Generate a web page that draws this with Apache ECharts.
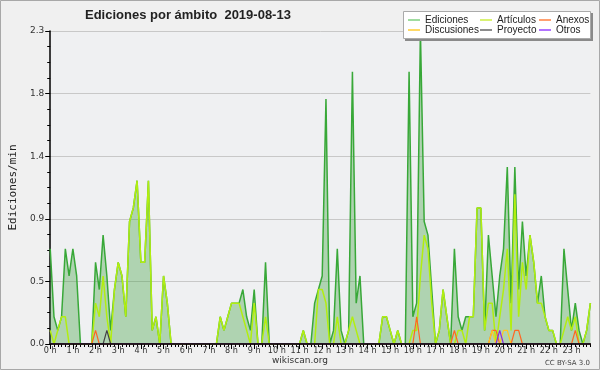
<!DOCTYPE html>
<html><head><meta charset="utf-8">
<script src="https://cdn.jsdelivr.net/npm/echarts@6/dist/echarts.min.js"></script>
<style>html,body{margin:0;padding:0;background:#f0f0f0}#c{width:600px;height:370px}</style>
</head><body><div id="c"></div>
<script>
// Tick labels (one per hour)
const hourLabels = ['0 h','1 h','2 h','3 h','4 h','5 h','6 h','7 h','8 h','9 h','10 h','11 h',
  '12 h','13 h','14 h','15 h','16 h','17 h','18 h','19 h','20 h','21 h','22 h','23 h'];
const minuteSlots = ['00','10','20','30','40','50'];
// Categories: 10-minute slots of the day
const categories = [];
hourLabels.forEach((h, hi) => minuteSlots.forEach(m => categories.push(hi + ':' + m)));

// Series values (edits per minute, 10-minute bins)
const ediciones = [
  0.7,0.2,0.1,0.2,0.7,0.5,0.7,0.5,0,0,0,0,
  0.6,0.4,0.8,0.5,0.1,0.4,0.6,0.5,0.2,0.9,1.0,1.2,
  0.6,0.6,1.2,0.1,0.2,0,0.5,0.3,0,0,0,0,
  0,0,0,0,0,0,0,0,0,0.2,0.1,0.2,
  0.3,0.3,0.3,0.4,0.2,0.1,0.4,0,0,0.6,0,0,
  0,0,0,0,0,0,0,0.1,0,0,0.3,0.4,
  0.5,1.8,0,0.1,0.7,0.1,0,0.1,2.0,0.3,0.5,0,
  0,0,0,0,0.2,0.2,0.1,0,0.1,0,0,2.0,
  0.2,0.3,2.3,0.9,0.8,0.4,0,0.1,0.4,0.2,0,0.7,
  0.2,0.1,0.2,0.2,0.2,1.0,1.0,0.1,0.8,0.5,0.2,0.5,
  0.7,1.3,0.3,1.3,0.4,0.9,0.5,0.8,0.6,0.3,0.5,0.2,
  0.1,0.1,0,0,0.7,0.4,0.1,0.3,0.1,0,0.1,0.3
];
const articulos = [
  0.1,0,0.1,0.2,0.2,0,0,0,0,0,0,0,
  0.3,0.2,0.5,0.2,0,0.4,0.6,0.5,0.2,0.9,1.0,1.2,
  0.6,0.6,1.2,0.1,0.2,0,0.5,0.3,0,0,0,0,
  0,0,0,0,0,0,0,0,0,0.2,0.1,0.2,
  0.3,0.3,0.3,0.2,0.1,0,0.3,0,0,0.2,0,0,
  0,0,0,0,0,0,0,0.1,0,0,0,0.4,
  0.4,0.3,0,0,0.2,0,0,0.1,0.2,0.1,0,0,
  0,0,0,0,0.2,0.2,0.1,0,0.1,0,0,0,
  0.1,0.1,0.5,0.8,0.7,0.3,0,0.1,0.4,0.2,0,0,
  0.1,0.1,0,0.2,0.2,1.0,1.0,0.1,0.3,0.3,0,0.2,
  0.4,0.7,0.1,1.1,0.2,0.6,0.4,0.8,0.6,0.3,0.3,0.2,
  0.1,0.1,0,0,0.1,0.2,0.1,0.2,0,0,0.1,0.3
];
const anexos = [
  0,0,0,0,0,0,0,0,0,0,0,0,
  0.1,0,0,0,0,0,0,0,0,0,0,0,
  0,0,0,0,0,0,0,0,0,0,0,0,
  0,0,0,0,0,0,0,0,0,0,0,0,
  0,0,0,0,0,0,0,0,0,0,0,0,
  0,0,0,0,0,0,0,0,0,0,0,0,
  0,0,0,0,0,0,0,0,0,0,0,0,
  0,0,0,0,0,0,0,0,0,0,0,0,
  0,0.2,0,0,0,0,0,0,0,0,0,0.1,
  0,0,0,0,0,0,0,0,0,0.1,0.1,0,
  0,0,0,0.1,0.1,0,0,0,0,0,0,0,
  0,0,0,0,0,0,0,0.1,0,0,0,0
];
const discusiones = [
  0,0,0,0,0,0,0,0,0,0,0,0,
  0,0,0,0,0,0,0,0,0,0,0,0,
  0,0,0,0,0,0,0,0,0,0,0,0,
  0,0,0,0,0,0,0,0,0,0,0,0,
  0,0,0,0,0,0,0,0,0,0,0,0,
  0,0,0,0,0,0,0,0,0,0,0,0,
  0,0,0,0,0,0,0,0,0,0,0,0,
  0,0,0,0,0,0,0,0,0,0,0,0,
  0,0,0,0,0,0,0,0,0,0,0,0,
  0,0,0,0,0,0,0,0,0,0.1,0,0,
  0.1,0.1,0,0,0,0,0,0,0,0,0,0,
  0,0,0,0,0,0,0,0,0,0,0,0
];
const proyecto = [
  0,0,0,0,0,0,0,0,0,0,0,0,
  0,0,0,0.1,0,0,0,0,0,0,0,0,
  0,0,0,0,0,0,0,0,0,0,0,0,
  0,0,0,0,0,0,0,0,0,0,0,0,
  0,0,0,0,0,0,0,0,0,0,0,0,
  0,0,0,0,0,0,0,0,0,0,0,0,
  0,0,0,0,0,0,0,0,0,0,0,0,
  0,0,0,0,0,0,0,0,0,0,0,0,
  0,0,0,0,0,0,0,0,0,0,0,0,
  0,0,0,0,0,0,0,0,0,0,0,0,
  0,0,0,0,0,0,0,0,0,0,0,0,
  0,0,0,0,0,0,0,0,0,0,0,0
];
const otros = [
  0,0,0,0,0,0,0,0,0,0,0,0,
  0,0,0,0,0,0,0,0,0,0,0,0,
  0,0,0,0,0,0,0,0,0,0,0,0,
  0,0,0,0,0,0,0,0,0,0,0,0,
  0,0,0,0,0,0,0,0,0,0,0,0,
  0,0,0,0,0,0,0,0,0,0,0,0,
  0,0,0,0,0,0,0,0,0,0,0,0,
  0,0,0,0,0,0,0,0,0,0,0,0,
  0,0,0,0,0,0,0,0,0,0,0,0,
  0,0,0,0,0,0,0,0,0,0,0,0.1,
  0,0,0,0,0,0,0,0,0,0,0,0,
  0,0,0,0,0,0,0,0,0,0,0,0
];
const yTicks = { min: 0, max: 2.3, step: 0.46 };

const chart = echarts.init(document.getElementById('c'), null, { renderer: 'canvas' });
const narrow = '"DejaVu Sans Condensed", "Liberation Sans Narrow", "Liberation Sans", sans-serif';
const legendText = { fontSize: 10, fontFamily: '"Liberation Sans", sans-serif', color: '#222', lineHeight: 10 };
function lineSeries(name, data, color, width, z) {
  return { name, type: 'line', data, symbol: 'none', showSymbol: false, z,
    lineStyle: { color, width }, itemStyle: { color }, emphasis: { disabled: true } };
}
const ed = lineSeries('Ediciones', ediciones, '#38a838', 1.5, 2);
ed.areaStyle = { color: 'rgba(60,160,60,0.5)' };

chart.setOption({
  backgroundColor: '#f0f0f0',
  animation: false,
  title: { text: 'Ediciones por ámbito  2019-08-13', left: 85, top: 9, padding: 0,
    textStyle: { fontFamily: '"Liberation Sans", sans-serif', fontSize: 13, fontWeight: 'bold', color: '#222' } },
  grid: { left: 46.5, right: 9.6, top: 31, bottom: 26, show: true, backgroundColor: '#eff0f2', borderWidth: 0 },
  xAxis: [
    { type: 'category', data: categories, boundaryGap: false, z: 10,
      axisLine: { lineStyle: { color: '#000', width: 1.5 } },
      axisTick: { interval: i => i % 6 === 0, length: 5, lineStyle: { color: '#000' } },
      axisLabel: { interval: i => i % 6 === 0, formatter: (v, i) => hourLabels[i / 6],
        fontSize: 9, fontFamily: narrow, color: '#333', margin: 2 },
      splitLine: { show: false } },
    { type: 'category', data: categories, boundaryGap: false, position: 'bottom',
      axisLine: { show: false },
      axisTick: { interval: 0, length: 3, lineStyle: { color: '#000' } },
      axisLabel: { show: false }, splitLine: { show: false } }
  ],
  yAxis: { type: 'value', min: yTicks.min, max: yTicks.max, interval: yTicks.step,
    name: 'Ediciones/min', nameLocation: 'middle', nameGap: 31,
    nameTextStyle: { fontFamily: '"DejaVu Sans Mono", monospace', fontSize: 11, color: '#222' },
    axisLine: { show: true, lineStyle: { color: '#000', width: 1.5 } },
    axisTick: { show: true, length: 5, lineStyle: { color: '#000' } },
    minorTick: { show: true, splitNumber: 4, length: 3, lineStyle: { color: '#000' } },
    axisLabel: { formatter: v => v.toFixed(1), fontSize: 9, fontFamily: '"DejaVu Sans", sans-serif', color: '#333', margin: 6 },
    splitLine: { lineStyle: { color: '#c8c8c8', width: 1 } } },
  legend: [
    { left: 408, top: 15, orient: 'vertical', padding: 0, itemGap: 0, itemWidth: 12, itemHeight: 1.5,
      icon: 'rect', selectedMode: false, z: 110, textStyle: legendText,
      data: [{ name: 'Ediciones', itemStyle: { color: '#80d080' } }, { name: 'Discusiones', itemStyle: { color: '#ffcc33' } }] },
    { left: 480, top: 15, orient: 'vertical', padding: 0, itemGap: 0, itemWidth: 12, itemHeight: 1.5,
      icon: 'rect', selectedMode: false, z: 110, textStyle: legendText,
      data: [{ name: 'Artículos', itemStyle: { color: '#ccee44' } }, { name: 'Proyecto', itemStyle: { color: '#666666' } }] },
    { left: 539, top: 15, orient: 'vertical', padding: 0, itemGap: 0, itemWidth: 12, itemHeight: 1.5,
      icon: 'rect', selectedMode: false, z: 110, textStyle: legendText,
      data: [{ name: 'Anexos', itemStyle: { color: '#ff8040' } }, { name: 'Otros', itemStyle: { color: '#9944ff' } }] }
  ],
  graphic: [
    { type: 'rect', silent: true, z: 100, shape: { x: 0.5, y: 0.5, width: 599, height: 369 }, style: { fill: 'none', stroke: '#a8a8a8', lineWidth: 1 } },
    { type: 'rect', silent: true, z: 100, shape: { x: 405, y: 13, width: 188, height: 28 }, style: { fill: '#8a8a8a' } },
    { type: 'rect', silent: true, z: 101, shape: { x: 403.5, y: 11.5, width: 187, height: 27 }, style: { fill: '#ffffff', stroke: '#aaaaaa', lineWidth: 1 } },
    { type: 'text', silent: true, z: 100, style: { text: 'wikiscan.org', x: 300, y: 361, textAlign: 'center', align: 'center', textVerticalAlign: 'middle', verticalAlign: 'middle', font: '9px "DejaVu Sans", sans-serif', fill: '#333' } },
    { type: 'text', silent: true, z: 100, style: { text: 'CC BY-SA 3.0', x: 590, y: 363, textAlign: 'right', align: 'right', textVerticalAlign: 'middle', verticalAlign: 'middle', font: '7px "DejaVu Sans", sans-serif', fill: '#444' } }
  ],
  series: [
    ed,
    lineSeries('Artículos', articulos, '#b2ee10', 1.5, 3),
    lineSeries('Anexos', anexos, '#ff6622', 1.2, 4),
    lineSeries('Discusiones', discusiones, '#ffc820', 1.2, 4),
    lineSeries('Proyecto', proyecto, '#444444', 1.2, 4),
    lineSeries('Otros', otros, '#8a2be2', 1.2, 4)
  ]
});
</script></body></html>
